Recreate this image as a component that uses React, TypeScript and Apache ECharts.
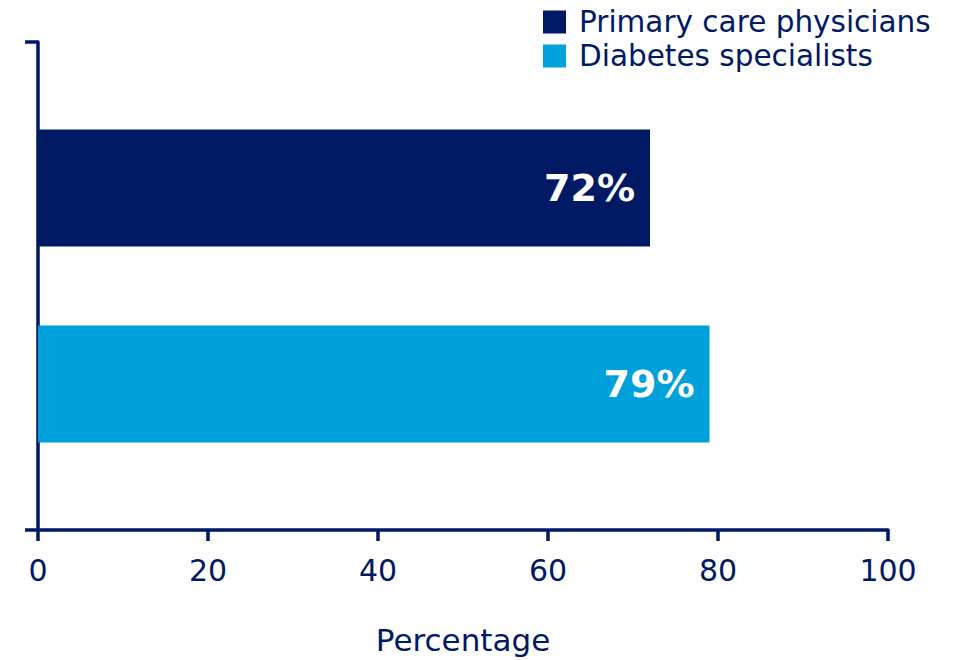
import React, { useEffect, useRef } from "react";
import * as echarts from "echarts";

const seriesNames = ["Primary care physicians", "Diabetes specialists"];
const seriesValues = [72, 79];
const seriesColors = ["#001965", "#00a0da"];
const categories = [""];
const xTicks = [0, 20, 40, 60, 80, 100];
const axisName = "Percentage";

const NAVY = "#001965";
const FONT = "'DejaVu Sans', Verdana, sans-serif";

export default function App() {
  const ref = useRef<HTMLDivElement>(null);
  useEffect(() => {
    if (!ref.current) return;
    const chart = echarts.init(ref.current, undefined, { renderer: "svg" });
    chart.setOption({
      animation: false,
      backgroundColor: "#ffffff",
      textStyle: { fontFamily: FONT, color: NAVY },
      legend: {
        orient: "vertical",
        left: 543,
        top: 7,
        padding: 0,
        itemWidth: 23,
        itemHeight: 23,
        itemGap: 4,
        icon: "rect",
        data: seriesNames,
        textStyle: {
          fontSize: 29.5,
          color: NAVY,
          fontFamily: FONT,
          padding: [0, 0, 0, 8],
        },
      },
      grid: { left: 38, right: 65, top: 42, bottom: 127, containLabel: false },
      xAxis: {
        type: "value",
        min: xTicks[0],
        max: xTicks[xTicks.length - 1],
        interval: 20,
        name: axisName,
        nameLocation: "middle",
        nameGap: 94,
        nameTextStyle: { fontSize: 31, color: NAVY, fontFamily: FONT },
        axisLine: { show: true, lineStyle: { color: NAVY, width: 3.5 } },
        axisTick: { show: true, length: 11, lineStyle: { color: NAVY, width: 3.5 } },
        axisLabel: { fontSize: 30, color: NAVY, margin: 25, fontFamily: FONT },
        splitLine: { show: false },
      },
      yAxis: {
        type: "category",
        data: categories,
        axisLine: { show: true, lineStyle: { color: NAVY, width: 3.5 } },
        axisTick: { show: true, length: 13, lineStyle: { color: NAVY, width: 3.5 } },
        axisLabel: { show: false },
      },
      series: seriesNames.map((name, i) => ({
        name,
        type: "bar",
        data: [seriesValues[i]],
        barWidth: 117,
        barGap: "67.5%",
        itemStyle: { color: seriesColors[i] },
        label: {
          show: true,
          position: "insideRight",
          distance: 15,
          formatter: "{c}%",
          color: "#ffffff",
          fontSize: 38,
          fontWeight: "bold",
          fontFamily: FONT,
        },
      })),
    });
    return () => chart.dispose();
  }, []);
  return <div ref={ref} style={{ width: 953, height: 660, position: "absolute", left: 0, top: 0 }} />;
}
